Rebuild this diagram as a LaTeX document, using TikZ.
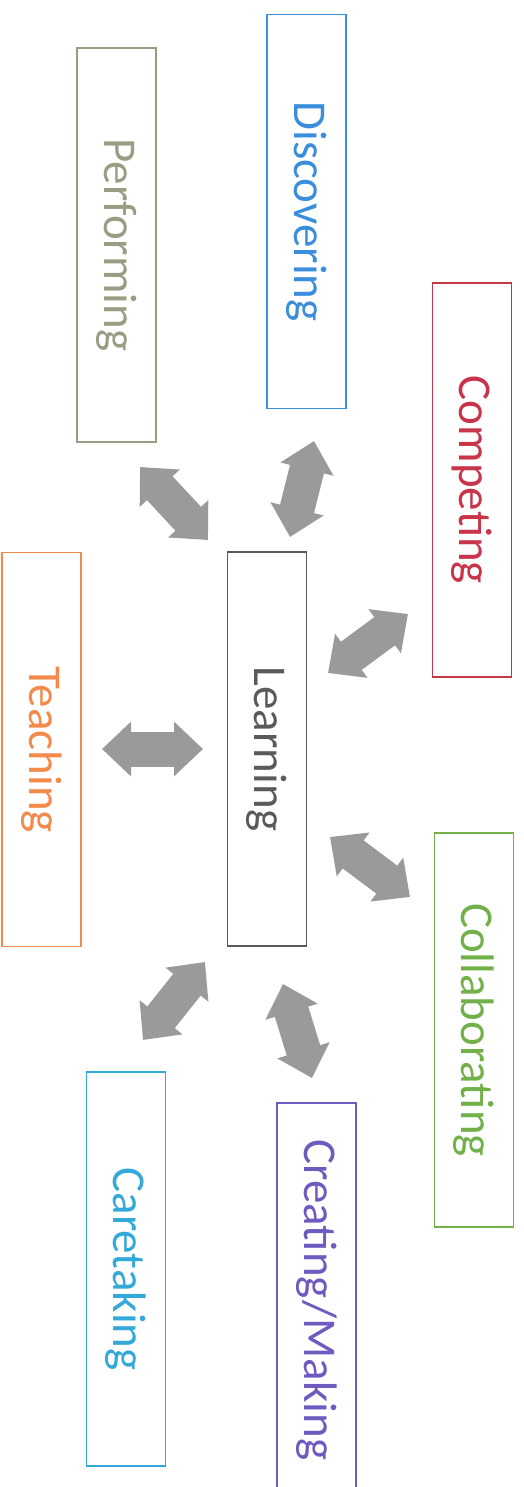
\documentclass[tikz,border=0pt]{standalone}
\usepackage{fontspec}
\setmainfont{Carlito}
\usetikzlibrary{arrows.meta}
\definecolor{cperf}{HTML}{9C9C84}
\definecolor{cdisc}{HTML}{3A8EDB}
\definecolor{ccomp}{HTML}{C8354B}
\definecolor{cteach}{HTML}{F28A4B}
\definecolor{clearn}{HTML}{5A5A5A}
\definecolor{ccollab}{HTML}{72B04A}
\definecolor{ccare}{HTML}{33A9DA}
\definecolor{ccreate}{HTML}{6F5BC0}
\definecolor{carrow}{HTML}{9A9A9A}
\tikzset{
  box/.style={draw=#1, text=#1, line width=1.3pt, rectangle, rotate=-90,
    minimum width=394pt, minimum height=79pt, inner sep=0pt,
    font=\fontsize{47}{51}\selectfont},
  dblarrow/.style={draw=carrow, line width=35pt,
    {Triangle[width=53pt,length=29pt]}-{Triangle[width=53pt,length=29pt]}}
}
\begin{document}
\begin{tikzpicture}[x=1pt,y=-1pt]
\useasboundingbox (0,0) rectangle (523,1487);
\node[box=cperf]   (perf)   at (116.5,245)  {Performing};
\node[box=cdisc]   (disc)   at (306.5,211.5){Discovering};
\node[box=ccomp]   (comp)   at (472,480)    {Competing};
\node[box=cteach]  (teach)  at (41.5,749.5) {Teaching};
\node[box=clearn]  (learn)  at (267,749)    {Learning};
\node[box=ccollab] (collab) at (474,1030)   {Collaborating};
\node[box=ccare]   (care)   at (126,1269)   {Caretaking};
\node[box=ccreate] (create) at (316.5,1300) {Creating/Making};
% arrow end points
\coordinate (pa) at (140,467);  \coordinate (pb) at (208,540);
\coordinate (da) at (314,441);  \coordinate (db) at (290,537);
\coordinate (ca) at (408,614);  \coordinate (cb) at (328,673);
\coordinate (ta) at (102,749);  \coordinate (tb) at (203,749);
\coordinate (oa) at (410,897);  \coordinate (ob) at (330,837);
\coordinate (ka) at (143,1040); \coordinate (kb) at (205,962);
\coordinate (ra) at (312,1078); \coordinate (rb) at (283,984);
\draw[dblarrow] (pa) -- (pb);
\draw[dblarrow] (da) -- (db);
\draw[dblarrow] (ca) -- (cb);
\draw[dblarrow] (ta) -- (tb);
\draw[dblarrow] (oa) -- (ob);
\draw[dblarrow] (ka) -- (kb);
\draw[dblarrow] (ra) -- (rb);
\end{tikzpicture}
\end{document}
